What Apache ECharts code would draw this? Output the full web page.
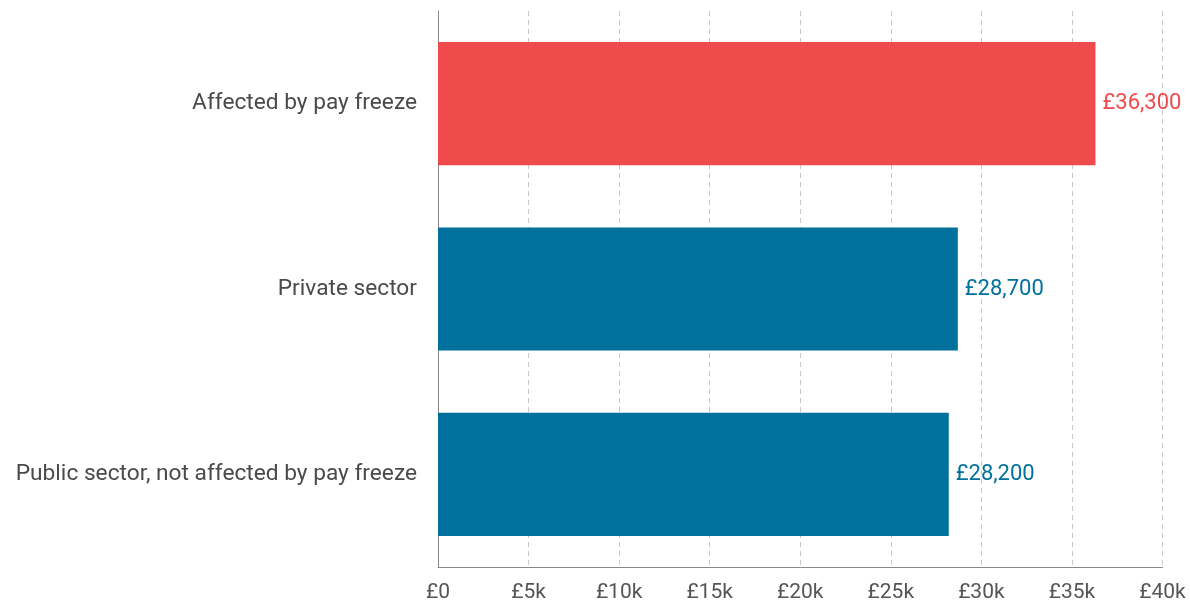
<!DOCTYPE html>
<html>
<head>
<meta charset="utf-8">
<script src="https://cdn.jsdelivr.net/npm/echarts@6/dist/echarts.min.js"></script>
<style>
html,body{margin:0;padding:0;background:#fff;}
#c{width:1190px;height:605px;}
</style>
</head>
<body>
<div id="c"></div>
<script>
const categories = ["Affected by pay freeze", "Private sector", "Public sector, not affected by pay freeze"];
const values = [36300, 28700, 28200];
const barColors = ["#EF4B4D", "#00719C", "#00719C"];
const tickLabels = ["£0", "£5k", "£10k", "£15k", "£20k", "£25k", "£30k", "£35k", "£40k"];

const chart = echarts.init(document.getElementById('c'));
const fontFamily = 'Roboto, "Noto Sans", sans-serif';
chart.setOption({
  animation: false,
  grid: { left: 438, right: 27.5, top: 11, bottom: 38, containLabel: false },
  xAxis: {
    type: 'value', min: 0, max: 40000, interval: 5000,
    axisLine: { show: true, lineStyle: { color: '#888', width: 1 } },
    axisTick: { show: false },
    splitLine: { show: true, lineStyle: { color: '#c8c8c8', type: [5, 4], width: 1 } },
    axisLabel: {
      color: '#555', fontSize: 21, fontFamily: fontFamily, margin: 15,
      formatter: (v) => tickLabels[Math.round(v / 5000)]
    }
  },
  yAxis: {
    type: 'category', data: categories, inverse: true,
    axisLine: { show: true, lineStyle: { color: '#888', width: 1 } },
    axisTick: { show: false },
    axisLabel: { color: '#4a4a4a', fontSize: 22.7, fontFamily: fontFamily, margin: 21, padding: [0, 0, 4, 0] }
  },
  series: [{
    type: 'bar',
    barCategoryGap: '33.5%',
    data: values.map((v, i) => ({
      value: v,
      itemStyle: { color: barColors[i] },
      label: { color: barColors[i] }
    })),
    label: {
      show: true, position: 'right', distance: 7,
      fontSize: 22, fontFamily: fontFamily, padding: [0, 0, 3, 0],
      formatter: (p) => '£' + p.value.toLocaleString('en-GB')
    }
  }]
});
</script>
</body>
</html>
